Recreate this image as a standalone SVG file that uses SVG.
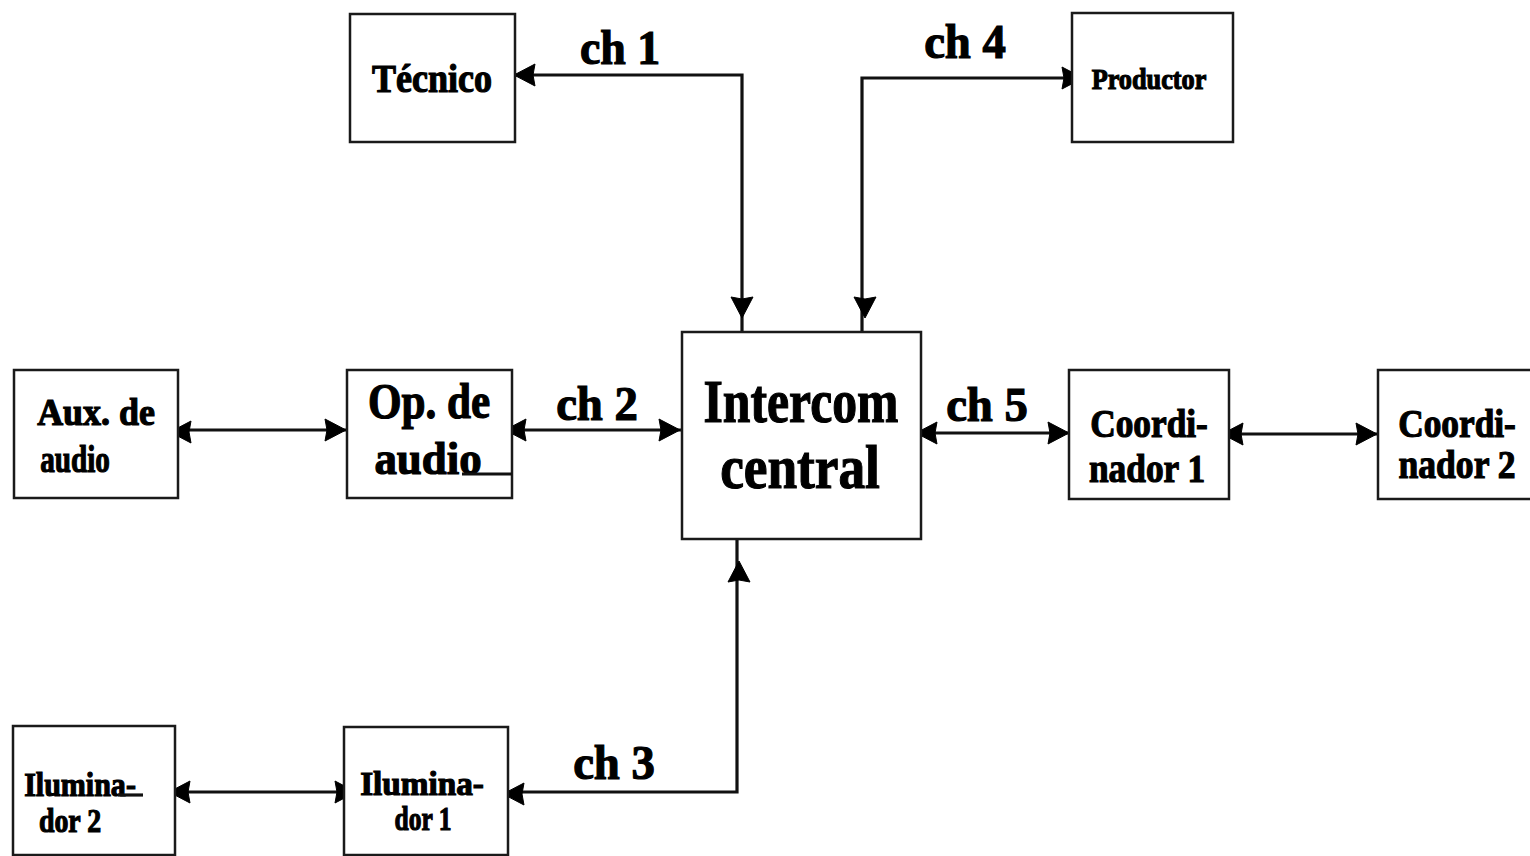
<svg xmlns="http://www.w3.org/2000/svg" xmlns:xlink="http://www.w3.org/1999/xlink" width="1530" height="856" viewBox="0 0 1530 856">
  <style>
    .box { fill: #ffffff; stroke: #1a1a1a; stroke-width: 2.5; }
    .wire { fill: none; stroke: #111111; stroke-width: 3.2; }
    .lbl { font-family: "Liberation Serif", "DejaVu Serif", serif; font-weight: bold; fill: #000000; stroke: #000000; stroke-width: 1.2; text-anchor: middle; }
    .head { fill: #000000; stroke: #000000; stroke-width: 1; }
  </style>
  <defs>
    <!-- solid arrowhead pointing right, tip at the origin -->
    <path id="ah" class="head" d="M0,0 L-21,-11 L-19,0 L-21,11 Z"/>
  </defs>

  <rect width="1530" height="856" fill="#ffffff"/>

  <!-- connectors -->
  <g id="connectors">
    <!-- ch 1 -->
    <path class="wire" d="M742,332 V75 H515"/>
    <use xlink:href="#ah" transform="translate(514,75) rotate(180)"/>
    <use xlink:href="#ah" transform="translate(742,318) rotate(90)"/>
    <!-- ch 4 -->
    <path class="wire" d="M862,332 V78 H1072"/>
    <use xlink:href="#ah" transform="translate(1083,78)"/>
    <use xlink:href="#ah" transform="translate(865,318) rotate(90)"/>
    <!-- ch 2 -->
    <path class="wire" d="M512,430 H682"/>
    <use xlink:href="#ah" transform="translate(505,430) rotate(180)"/>
    <use xlink:href="#ah" transform="translate(680,430)"/>
    <!-- aux / op -->
    <path class="wire" d="M178,430 H347"/>
    <use xlink:href="#ah" transform="translate(170,432) rotate(180)"/>
    <use xlink:href="#ah" transform="translate(346,430)"/>
    <!-- ch 5 -->
    <path class="wire" d="M921,433 H1069"/>
    <use xlink:href="#ah" transform="translate(916,433) rotate(180)"/>
    <use xlink:href="#ah" transform="translate(1069,433)"/>
    <!-- coordinador 1 / 2 -->
    <path class="wire" d="M1229,434 H1378"/>
    <use xlink:href="#ah" transform="translate(1222,434) rotate(180)"/>
    <use xlink:href="#ah" transform="translate(1377,434)"/>
    <!-- ch 3 -->
    <path class="wire" d="M508,792 H737 V539"/>
    <use xlink:href="#ah" transform="translate(503,794) rotate(180)"/>
    <use xlink:href="#ah" transform="translate(739,561) rotate(-90)"/>
    <!-- iluminador 2 / 1 -->
    <path class="wire" d="M175,792 H344"/>
    <use xlink:href="#ah" transform="translate(169,792) rotate(180)"/>
    <use xlink:href="#ah" transform="translate(356,792)"/>

    <!-- channel labels -->
    <text class="lbl" transform="translate(620,64) scale(0.75,1)" font-size="48" textLength="107" lengthAdjust="spacingAndGlyphs">ch 1</text>
    <text class="lbl" transform="translate(965,58) scale(0.75,1)" font-size="48" textLength="109" lengthAdjust="spacingAndGlyphs">ch 4</text>
    <text class="lbl" transform="translate(597,420) scale(0.75,1)" font-size="48" textLength="109" lengthAdjust="spacingAndGlyphs">ch 2</text>
    <text class="lbl" transform="translate(987,421) scale(0.75,1)" font-size="48" textLength="109" lengthAdjust="spacingAndGlyphs">ch 5</text>
    <text class="lbl" transform="translate(614,779) scale(0.75,1)" font-size="48" textLength="109" lengthAdjust="spacingAndGlyphs">ch 3</text>
  </g>

  <!-- nodes -->
  <g id="tecnico">
    <rect class="box" x="350" y="14" width="165" height="128"/>
    <text class="lbl" transform="translate(432,92) scale(0.75,1)" font-size="40" textLength="160" lengthAdjust="spacingAndGlyphs">Técnico</text>
  </g>

  <g id="productor">
    <rect class="box" x="1072" y="13" width="161" height="129"/>
    <text class="lbl" transform="translate(1149,89) scale(0.75,1)" font-size="30" textLength="153" lengthAdjust="spacingAndGlyphs">Productor</text>
  </g>

  <g id="aux-audio">
    <rect class="box" x="14" y="370" width="164" height="128"/>
    <text class="lbl" transform="translate(96,425) scale(0.75,1)" font-size="38" textLength="157" lengthAdjust="spacingAndGlyphs">Aux. de</text>
    <text class="lbl" transform="translate(75,472) scale(0.75,1)" font-size="38" textLength="93" lengthAdjust="spacingAndGlyphs">audio</text>
  </g>

  <g id="op-audio">
    <rect class="box" x="347" y="370" width="165" height="128"/>
    <text class="lbl" transform="translate(429,418) scale(0.75,1)" font-size="50" textLength="163" lengthAdjust="spacingAndGlyphs">Op. de</text>
    <text class="lbl" transform="translate(428,474) scale(0.75,1)" font-size="46" textLength="143" lengthAdjust="spacingAndGlyphs">audio</text>
    <path class="wire" d="M462,474 H512" stroke-width="2"/>
  </g>

  <g id="intercom">
    <rect class="box" x="682" y="332" width="239" height="207"/>
    <text class="lbl" transform="translate(801,422) scale(0.75,1)" font-size="62" textLength="260" lengthAdjust="spacingAndGlyphs">Intercom</text>
    <text class="lbl" transform="translate(800,488) scale(0.75,1)" font-size="62" textLength="213" lengthAdjust="spacingAndGlyphs">central</text>
  </g>

  <g id="coordinador-1">
    <rect class="box" x="1069" y="370" width="160" height="129"/>
    <text class="lbl" transform="translate(1149,437) scale(0.75,1)" font-size="40" textLength="157" lengthAdjust="spacingAndGlyphs">Coordi-</text>
    <text class="lbl" transform="translate(1147,482) scale(0.75,1)" font-size="40" textLength="155" lengthAdjust="spacingAndGlyphs">nador 1</text>
  </g>

  <g id="coordinador-2">
    <rect class="box" x="1378" y="370" width="160" height="129"/>
    <text class="lbl" transform="translate(1457,437) scale(0.75,1)" font-size="40" textLength="157" lengthAdjust="spacingAndGlyphs">Coordi-</text>
    <text class="lbl" transform="translate(1457,478) scale(0.75,1)" font-size="40" textLength="156" lengthAdjust="spacingAndGlyphs">nador 2</text>
  </g>

  <g id="iluminador-2">
    <rect class="box" x="13" y="726" width="162" height="129"/>
    <text class="lbl" transform="translate(80,796) scale(0.75,1)" font-size="34" textLength="149" lengthAdjust="spacingAndGlyphs">Ilumina-</text>
    <path class="wire" d="M118,795 H143" stroke-width="2"/>
    <text class="lbl" transform="translate(70,832) scale(0.75,1)" font-size="34" textLength="83" lengthAdjust="spacingAndGlyphs">dor 2</text>
  </g>

  <g id="iluminador-1">
    <rect class="box" x="344" y="727" width="164" height="128"/>
    <text class="lbl" transform="translate(422,795) scale(0.75,1)" font-size="34" textLength="165" lengthAdjust="spacingAndGlyphs">Ilumina-</text>
    <text class="lbl" transform="translate(423,830) scale(0.75,1)" font-size="34" textLength="76" lengthAdjust="spacingAndGlyphs">dor 1</text>
  </g>
</svg>
